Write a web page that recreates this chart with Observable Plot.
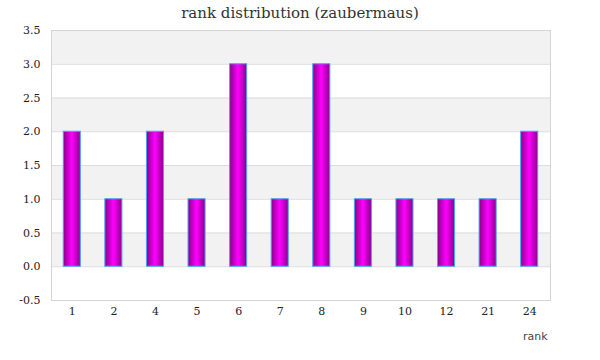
<!DOCTYPE html>
<html>
<head>
<meta charset="utf-8">
<script src="https://cdn.jsdelivr.net/npm/d3@7"></script>
<script src="https://cdn.jsdelivr.net/npm/@observablehq/plot@0.6"></script>
<style>
  body { margin: 0; background: #fff; }
  #title { font-family: Georgia, "DejaVu Serif", serif; font-size: 15px; color: #333; text-align: center; height: 24px; line-height: 26px; width: 600px; }
</style>
</head>
<body>
<div id="title">rank distribution (zaubermaus)</div>
<div id="chart"></div>
<script>
const ranks = ["1","2","4","5","6","7","8","9","10","12","21","24"];
const counts = [2,1,2,1,3,1,3,1,1,1,1,2];
const yTicks = [-0.5,0,0.5,1,1.5,2,2.5,3,3.5];
const xLabel = "rank";

const data = ranks.map((r,i) => ({rank: r, count: counts[i]}));
const bands = yTicks.slice(0,-1).map((t,i) => ({y1: t, y2: yTicks[i+1], shade: i % 2 === 1}));
const tickFont = "'DejaVu Serif', Georgia, serif";

const plot = Plot.plot({
  width: 600,
  height: 336,
  marginLeft: 51,
  marginRight: 50,
  marginTop: 6,
  marginBottom: 60,
  style: {fontFamily: tickFont, fontSize: "11px", color: "#222"},
  x: {domain: ranks, padding: 0.59, paddingOuter: 0.295, round: false, label: null},
  y: {domain: [-0.5, 3.5], label: null},
  marks: [
    Plot.rect(bands.filter(b => b.shade), {y1: "y1", y2: "y2", fill: "#f2f2f2"}),
    Plot.ruleY(yTicks, {stroke: "#dcdcdc", strokeWidth: 1}),
    Plot.frame({stroke: "#d4d4d4"}),
    Plot.barY(data, {x: "rank", y: "count", fill: "url(#barGrad)", stroke: "#4aa3f0", strokeWidth: 1}),
    Plot.axisX({tickSize: 0, tickPadding: 7, label: null, fontSize: 11, fontFamily: tickFont}),
    Plot.axisY({ticks: yTicks, tickFormat: d => d.toFixed(1), tickSize: 0, tickPadding: 11, label: null, fontSize: 11, fontFamily: tickFont}),
    Plot.text([xLabel], {frameAnchor: "bottom-right", dy: 39, dx: -3, text: d => d, fontFamily: "Verdana, 'DejaVu Sans', sans-serif", fontSize: 11, fill: "#444", textAnchor: "end"})
  ]
});

const ns = "http://www.w3.org/2000/svg";
const defs = document.createElementNS(ns, "defs");
const grad = document.createElementNS(ns, "linearGradient");
grad.setAttribute("id", "barGrad");
grad.setAttribute("x1", "0"); grad.setAttribute("x2", "1");
grad.setAttribute("y1", "0"); grad.setAttribute("y2", "0");
[["0%", "#8a008c"], ["50%", "#ff00ff"], ["100%", "#8a008c"]].forEach(([o, c]) => {
  const s = document.createElementNS(ns, "stop");
  s.setAttribute("offset", o); s.setAttribute("stop-color", c);
  grad.appendChild(s);
});
defs.appendChild(grad);
plot.insertBefore(defs, plot.firstChild);
document.getElementById("chart").appendChild(plot);
</script>
</body>
</html>
